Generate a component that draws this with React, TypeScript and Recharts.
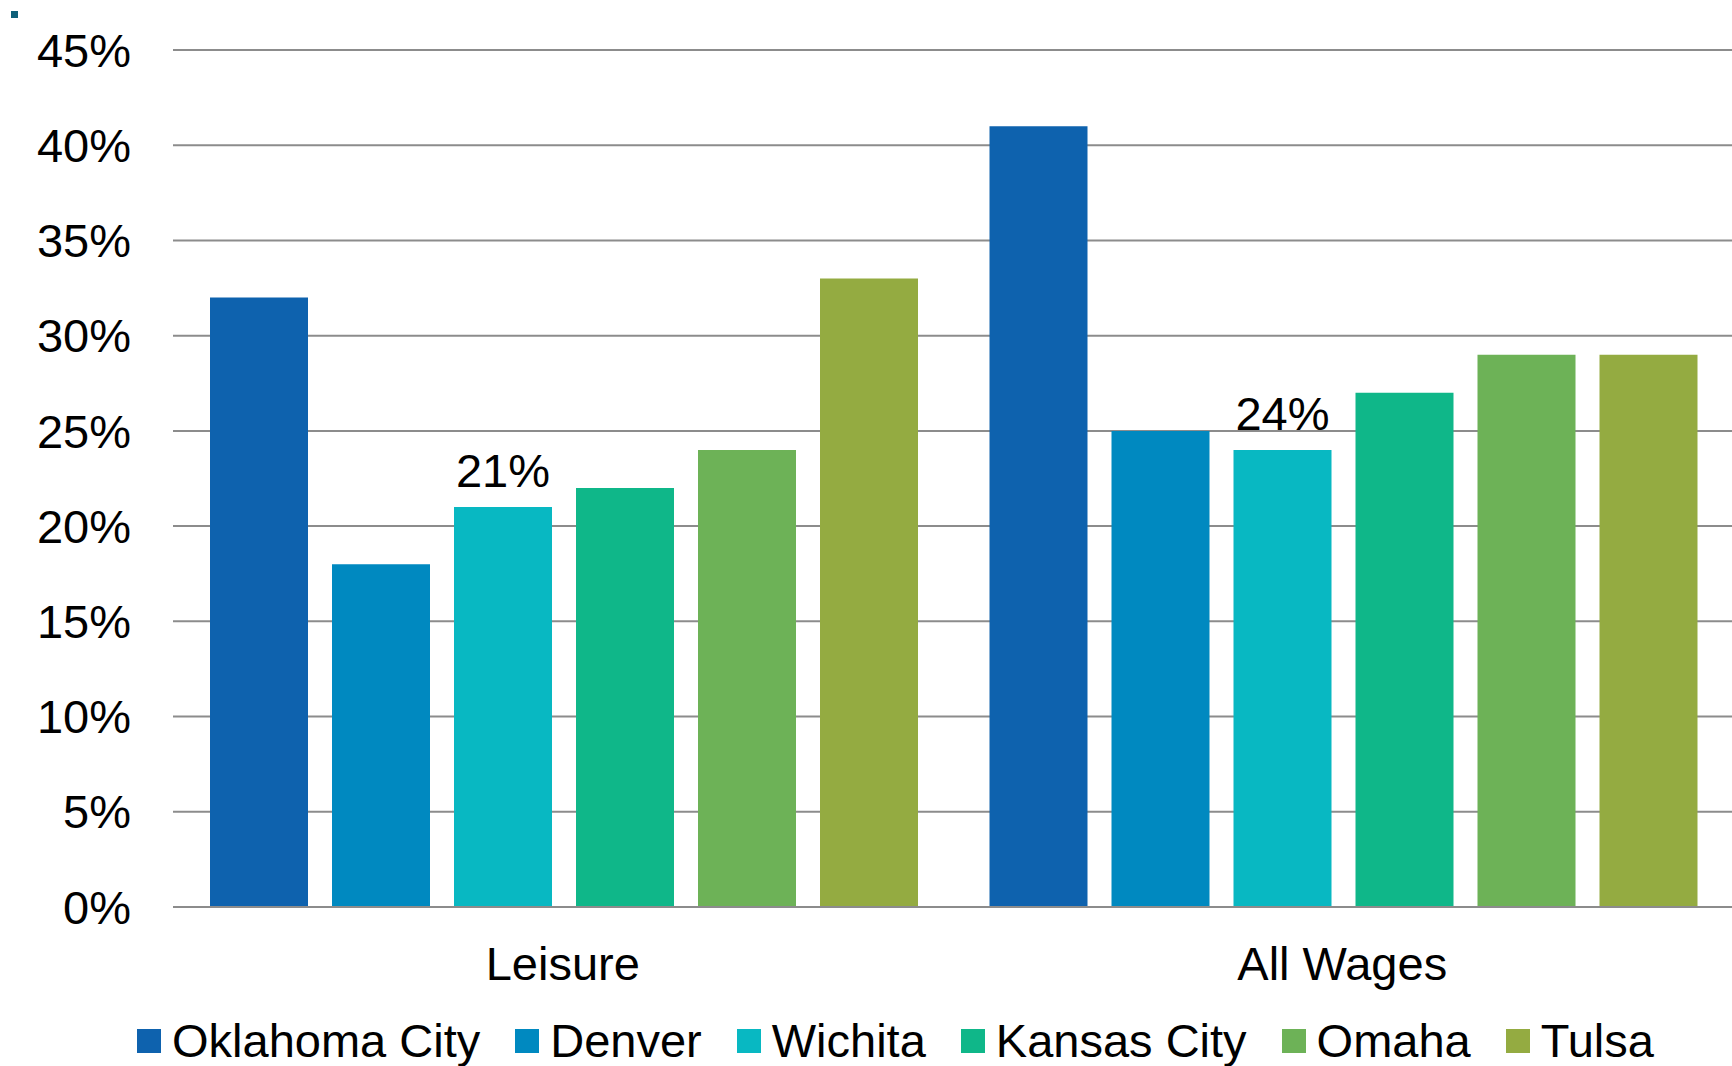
import { Bar, BarChart, CartesianGrid, LabelList, XAxis, YAxis } from "recharts";

const categorias = ["Leisure", "All Wages"];
const ciudades = ["Oklahoma City", "Denver", "Wichita", "Kansas City", "Omaha", "Tulsa"];
const colores = ["#0e62ae", "#0089c0", "#08b8c2", "#0fb789", "#6db257", "#94ab41"];

const oklahomaCity = [32, 41];
const denver = [18, 25];
const wichita = [21, 24];
const kansasCity = [22, 27];
const omaha = [24, 29];
const tulsa = [33, 29];

const valores = [oklahomaCity, denver, wichita, kansasCity, omaha, tulsa];
const ticksY = [0, 5, 10, 15, 20, 25, 30, 35, 40, 45];

const datos = categorias.map((cat, i) => {
  const fila: Record<string, string | number> = { categoria: cat };
  ciudades.forEach((c, j) => {
    fila[c] = valores[j][i];
  });
  return fila;
});

const fuente = "'Liberation Sans', Arial, Helvetica, sans-serif";

export default function App() {
  return (
    <div style={{ position: "absolute", left: 0, top: 0, width: 1732, height: 1066, background: "#fff", fontFamily: fuente }}>
      <div style={{ position: "absolute", left: 11, top: 11, width: 7, height: 7, background: "#0e6079" }} />
      <BarChart
        width={1732}
        height={1066}
        data={datos}
        margin={{ top: 50, right: 0, bottom: 0, left: 0 }}
        barCategoryGap={37}
        barGap={24}
      >
        <CartesianGrid vertical={false} stroke="#8c8c8c" strokeWidth={2} />
        <XAxis
          dataKey="categoria"
          height={159}
          axisLine={{ stroke: "#8c8c8c", strokeWidth: 2 }}
          tickLine={false}
          tickMargin={34}
          tick={{ fontSize: 47, fill: "#000", fontFamily: fuente }}
        />
        <YAxis
          width={173}
          domain={[0, 45]}
          ticks={ticksY}
          axisLine={false}
          tickLine={false}
          tickMargin={36}
          tickFormatter={(v) => `${v}%`}
          tick={{ fontSize: 47, fill: "#000", fontFamily: fuente }}
        />
        {ciudades.map((c, j) => (
          <Bar key={c} dataKey={c} fill={colores[j]} isAnimationActive={false}>
            {c === "Wichita" && (
              <LabelList
                dataKey={c}
                position="top"
                offset={20}
                formatter={(v: any) => `${v}%`}
                style={{ fontSize: 47, fill: "#000", fontFamily: fuente }}
              />
            )}
          </Bar>
        ))}
      </BarChart>
      <div
        style={{
          position: "absolute",
          left: 137,
          top: 1014,
          display: "flex",
          alignItems: "center",
          gap: 35,
          fontSize: 47,
          lineHeight: "54px",
          whiteSpace: "nowrap",
        }}
      >
        {ciudades.map((c, j) => (
          <div key={c} style={{ display: "flex", alignItems: "center", gap: 11 }}>
            <span style={{ display: "inline-block", width: 24, height: 24, background: colores[j] }} />
            <span>{c}</span>
          </div>
        ))}
      </div>
    </div>
  );
}
